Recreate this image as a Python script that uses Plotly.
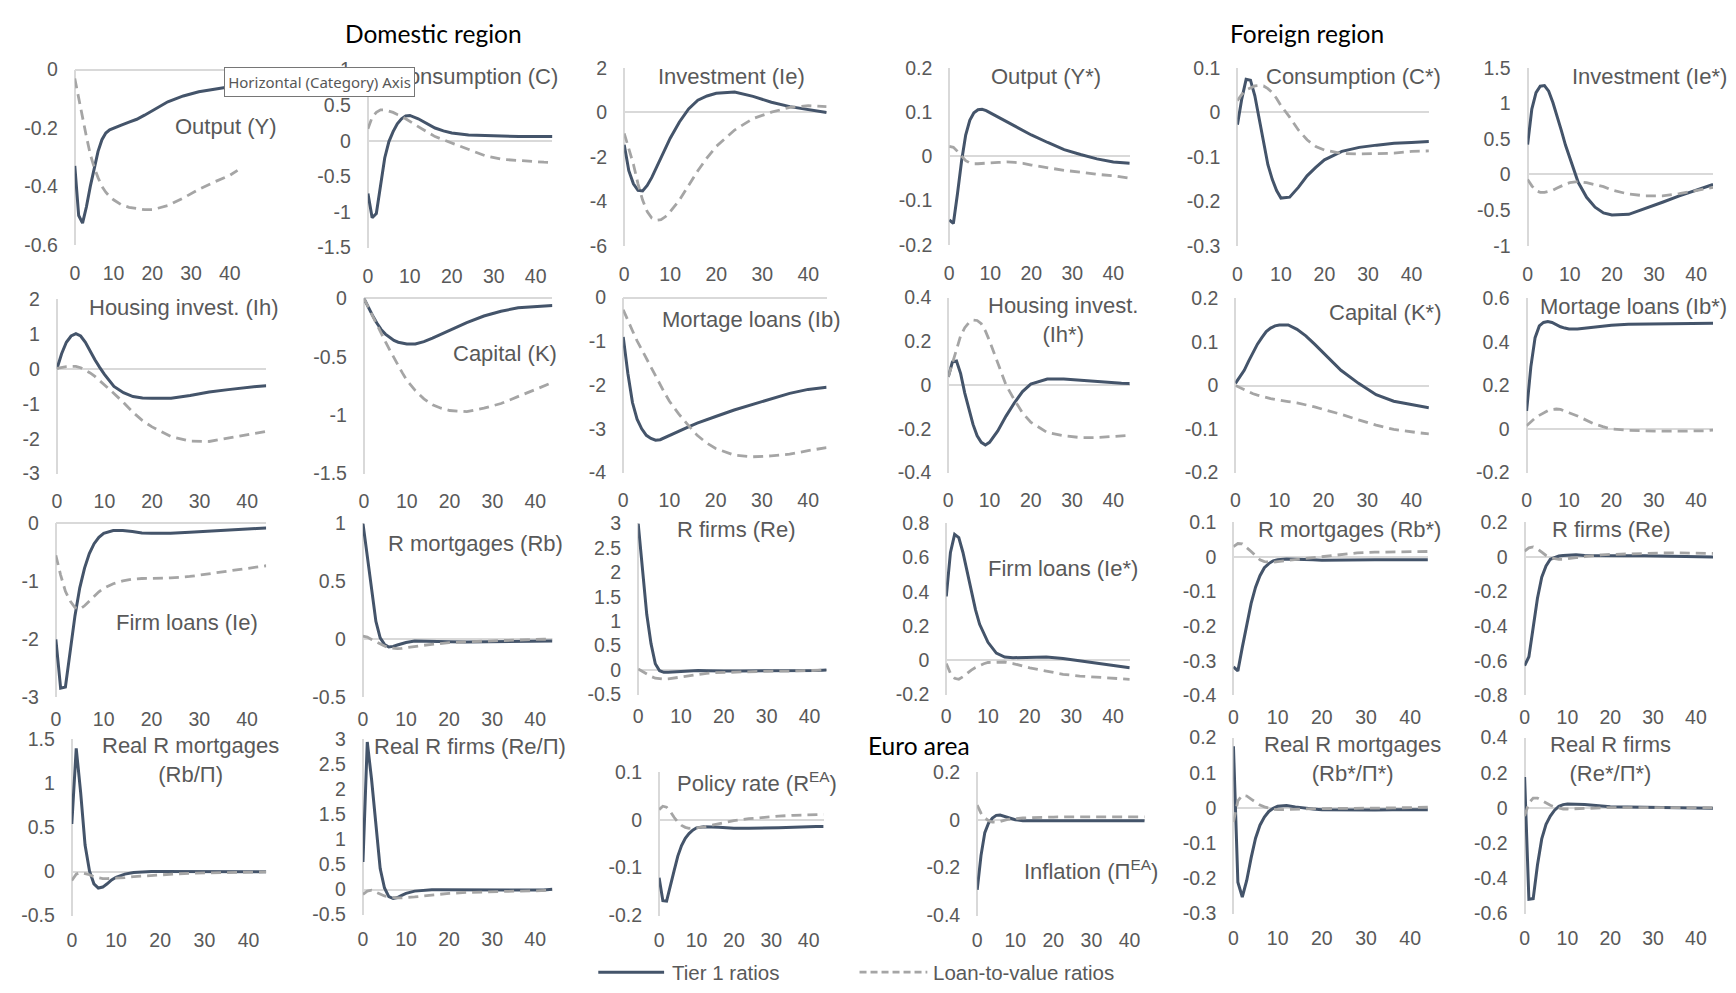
import plotly.graph_objects as go

# Quarters after the shock
HORIZON = [0, 1, 2, 3, 4, 5, 6, 7, 8, 9, 10, 12, 14, 16, 18, 20, 24, 28, 32, 36, 40, 42, 44]
X_TICKS = [0, 10, 20, 30, 40]

# ---- Domestic region -------------------------------------------------------
output_t1 = [-0.33, -0.50, -0.526, -0.47, -0.40, -0.335, -0.28, -0.24, -0.217, -0.206, -0.20,
             -0.19, -0.18, -0.17, -0.156, -0.14, -0.11, -0.09, -0.076, -0.067, -0.058, -0.054, -0.05]
output_ltv = [-0.03, -0.10, -0.17, -0.23, -0.29, -0.335, -0.37, -0.40, -0.42, -0.435, -0.446,
              -0.463, -0.472, -0.477, -0.48, -0.48, -0.466, -0.44, -0.41, -0.385, -0.362, -0.345, None]

cons_t1 = [-0.74, -1.08, -1.02, -0.65, -0.24, -0.01, 0.13, 0.24, 0.31, 0.35, 0.357,
           0.31, 0.24, 0.18, 0.14, 0.11, 0.083, 0.073, 0.064, 0.06, 0.06, 0.06, 0.06]
cons_ltv = [0.17, 0.33, 0.40, 0.435, 0.435, 0.42, 0.40, 0.37, 0.35, 0.31, 0.27,
            0.20, 0.13, 0.06, 0.015, -0.03, -0.12, -0.21, -0.26, -0.28, -0.30, -0.30, -0.305]

inv_t1 = [-1.46, -2.63, -3.22, -3.51, -3.54, -3.29, -2.93, -2.49, -2.05, -1.61, -1.17,
          -0.44, 0.15, 0.54, 0.73, 0.85, 0.91, 0.71, 0.45, 0.25, 0.12, 0.05, -0.01]
inv_ltv = [-0.95, -1.61, -2.34, -3.22, -3.95, -4.47, -4.76, -4.86, -4.83, -4.69, -4.47,
           -3.95, -3.29, -2.63, -2.05, -1.54, -0.80, -0.29, 0.0, 0.22, 0.29, 0.28, 0.25]

hinv_t1 = [0.0, 0.44, 0.77, 0.95, 1.02, 0.95, 0.77, 0.51, 0.27, 0.05, -0.15,
           -0.50, -0.68, -0.79, -0.83, -0.84, -0.84, -0.76, -0.66, -0.59, -0.52, -0.50, -0.48]
hinv_ltv = [0.02, 0.05, 0.07, 0.08, 0.08, 0.04, -0.03, -0.11, -0.21, -0.33, -0.45,
            -0.70, -0.96, -1.24, -1.48, -1.66, -1.94, -2.07, -2.08, -1.99, -1.90, -1.85, -1.79]

cap_t1 = [0.0, -0.075, -0.145, -0.21, -0.265, -0.305, -0.335, -0.36, -0.375, -0.385, -0.39,
          -0.39, -0.37, -0.34, -0.307, -0.27, -0.207, -0.15, -0.109, -0.08, -0.067, -0.063, -0.06]
cap_ltv = [0.0, -0.075, -0.155, -0.23, -0.30, -0.37, -0.44, -0.51, -0.58, -0.64, -0.70,
           -0.79, -0.86, -0.91, -0.94, -0.96, -0.97, -0.94, -0.90, -0.84, -0.78, -0.75, -0.72]

mort_t1 = [-0.9, -1.73, -2.40, -2.78, -3.00, -3.15, -3.22, -3.26, -3.25, -3.20, -3.15,
           -3.06, -2.96, -2.87, -2.79, -2.72, -2.57, -2.44, -2.31, -2.19, -2.10, -2.07, -2.05]
mort_ltv = [-0.28, -0.54, -0.76, -0.99, -1.19, -1.40, -1.60, -1.81, -2.01, -2.19, -2.37,
            -2.66, -2.91, -3.15, -3.32, -3.45, -3.60, -3.64, -3.62, -3.58, -3.50, -3.47, -3.43]

floans_t1 = [-2.0, -2.84, -2.82, -2.24, -1.59, -1.11, -0.77, -0.52, -0.35, -0.24, -0.17,
             -0.124, -0.124, -0.14, -0.164, -0.17, -0.17, -0.153, -0.13, -0.107, -0.096, -0.088, -0.08]
floans_ltv = [-0.55, -0.89, -1.17, -1.34, -1.45, -1.48, -1.42, -1.34, -1.25, -1.18, -1.12,
              -1.04, -0.99, -0.96, -0.95, -0.95, -0.94, -0.915, -0.87, -0.82, -0.77, -0.75, -0.73]

rb_t1 = [1.0, 0.72, 0.41, 0.156, 0.014, -0.043, -0.065, -0.06, -0.048, -0.037, -0.026,
         -0.014, -0.014, -0.017, -0.02, -0.02, -0.023, -0.02, -0.017, -0.014, -0.014, -0.014, -0.014]
rb_ltv = [0.028, 0.02, 0.0, -0.02, -0.043, -0.057, -0.071, -0.077, -0.08, -0.077, -0.071,
          -0.062, -0.051, -0.043, -0.034, -0.028, -0.02, -0.014, -0.009, -0.003, 0.003, 0.002, 0.0]

re_t1 = [3.0, 2.0, 1.14, 0.54, 0.13, -0.013, -0.047, -0.047, -0.04, -0.027, -0.02,
         -0.007, -0.007, -0.013, -0.02, -0.02, -0.02, -0.02, -0.02, -0.013, -0.013, -0.007, 0.0]
re_ltv = [0.02, -0.033, -0.087, -0.13, -0.167, -0.18, -0.187, -0.18, -0.167, -0.153, -0.14,
          -0.113, -0.087, -0.067, -0.053, -0.047, -0.033, -0.027, -0.02, -0.02, -0.013, -0.007, 0.0]

rrb_t1 = [0.54, 1.40, 0.90, 0.30, 0.007, -0.14, -0.188, -0.177, -0.14, -0.096, -0.066,
          -0.03, -0.011, -0.004, 0.0, 0.0, 0.0, 0.0, 0.0, -0.002, -0.004, -0.004, -0.004]
rrb_ltv = [-0.103, -0.03, -0.011, -0.022, -0.037, -0.059, -0.074, -0.081, -0.081, -0.079, -0.077,
           -0.07, -0.059, -0.052, -0.044, -0.037, -0.026, -0.018, -0.015, -0.011, -0.007, -0.005, -0.004]

rre_t1 = [0.55, 2.95, 2.2, 1.35, 0.42, 0.03, -0.142, -0.18, -0.16, -0.116, -0.077,
          -0.032, -0.013, -0.006, -0.006, -0.006, -0.013, -0.019, -0.019, -0.019, -0.019, -0.01, 0.006]
rre_ltv = [-0.097, -0.032, -0.013, -0.052, -0.097, -0.129, -0.148, -0.161, -0.168, -0.165, -0.161,
           -0.148, -0.129, -0.11, -0.09, -0.077, -0.058, -0.045, -0.039, -0.032, -0.026, -0.02, -0.013]

# ---- Foreign region --------------------------------------------------------
output_f_t1 = [-0.144, -0.152, -0.085, -0.011, 0.048, 0.081, 0.098, 0.105, 0.106, 0.103, 0.098,
               0.088, 0.078, 0.068, 0.058, 0.048, 0.031, 0.015, 0.004, -0.006, -0.013, -0.015, -0.016]
output_f_ltv = [0.022, 0.02, 0.011, 0.0, -0.01, -0.015, -0.017, -0.017, -0.016, -0.015, -0.015,
                -0.014, -0.013, -0.014, -0.016, -0.02, -0.026, -0.032, -0.036, -0.041, -0.044, -0.047, -0.05]

cons_f_t1 = [-0.028, 0.03, 0.074, 0.072, 0.037, -0.015, -0.074, -0.118, -0.151, -0.176, -0.193,
             -0.191, -0.169, -0.143, -0.124, -0.107, -0.088, -0.079, -0.074, -0.07, -0.068, -0.067, -0.066]
cons_f_ltv = [0.026, 0.04, 0.05, 0.055, 0.059, 0.06, 0.059, 0.053, 0.044, 0.031, 0.015,
              -0.011, -0.04, -0.062, -0.077, -0.085, -0.093, -0.094, -0.093, -0.092, -0.088, -0.087, -0.087]

inv_f_t1 = [0.42, 0.92, 1.15, 1.24, 1.25, 1.17, 1.01, 0.83, 0.62, 0.41, 0.23,
            -0.11, -0.32, -0.46, -0.54, -0.57, -0.56, -0.48, -0.39, -0.30, -0.22, -0.18, -0.14]
inv_f_ltv = [-0.07, -0.16, -0.23, -0.25, -0.25, -0.24, -0.22, -0.19, -0.16, -0.135, -0.115,
             -0.10, -0.115, -0.14, -0.17, -0.22, -0.275, -0.30, -0.30, -0.27, -0.22, -0.20, -0.18]

hinv_f_t1 = [0.037, 0.105, 0.11, 0.052, -0.037, -0.112, -0.18, -0.232, -0.262, -0.274, -0.262,
             -0.21, -0.142, -0.082, -0.03, 0.004, 0.027, 0.028, 0.022, 0.015, 0.01, 0.008, 0.007]
hinv_f_ltv = [0.037, 0.097, 0.165, 0.225, 0.262, 0.285, 0.297, 0.295, 0.28, 0.247, 0.202,
              0.097, 0.0, -0.067, -0.127, -0.17, -0.217, -0.232, -0.24, -0.24, -0.235, -0.232, -0.23]

cap_f_t1 = [0.005, 0.02, 0.035, 0.056, 0.077, 0.095, 0.11, 0.124, 0.132, 0.137, 0.139,
            0.139, 0.129, 0.114, 0.095, 0.075, 0.035, 0.005, -0.021, -0.036, -0.044, -0.048, -0.051]
cap_f_ltv = [0.0, -0.005, -0.01, -0.015, -0.019, -0.022, -0.025, -0.028, -0.03, -0.032, -0.034,
             -0.037, -0.04, -0.044, -0.049, -0.055, -0.066, -0.079, -0.091, -0.101, -0.107, -0.109, -0.111]

mort_f_t1 = [0.083, 0.286, 0.42, 0.474, 0.49, 0.494, 0.49, 0.479, 0.47, 0.464, 0.46,
             0.46, 0.464, 0.47, 0.474, 0.477, 0.482, 0.483, 0.485, 0.486, 0.486, 0.486, 0.486]
mort_f_ltv = [0.015, 0.033, 0.05, 0.063, 0.075, 0.084, 0.09, 0.092, 0.09, 0.084, 0.075,
              0.06, 0.042, 0.023, 0.011, 0.0, -0.006, -0.009, -0.01, -0.01, -0.01, -0.008, -0.005]

floans_f_t1 = [0.373, 0.63, 0.736, 0.717, 0.63, 0.516, 0.40, 0.296, 0.21, 0.153, 0.105,
               0.042, 0.019, 0.015, 0.015, 0.019, 0.019, 0.01, -0.004, -0.019, -0.033, -0.039, -0.044]
floans_f_ltv = [-0.019, -0.076, -0.105, -0.111, -0.096, -0.076, -0.057, -0.042, -0.029, -0.02, -0.013,
                -0.01, -0.01, -0.019, -0.033, -0.044, -0.063, -0.082, -0.092, -0.10, -0.105, -0.108, -0.111]

rb_f_t1 = [-0.317, -0.329, -0.261, -0.195, -0.134, -0.087, -0.054, -0.031, -0.019, -0.011, -0.008,
           -0.006, -0.006, -0.008, -0.008, -0.009, -0.008, -0.008, -0.008, -0.008, -0.008, -0.008, -0.008]
rb_f_ltv = [0.03, 0.039, 0.038, 0.028, 0.016, 0.004, -0.008, -0.013, -0.015, -0.015, -0.013,
            -0.01, -0.008, -0.005, -0.001, 0.002, 0.008, 0.012, 0.014, 0.015, 0.016, 0.016, 0.016]

re_f_t1 = [-0.628, -0.576, -0.407, -0.238, -0.116, -0.051, -0.013, -0.004, 0.006, 0.009, 0.011,
           0.013, 0.009, 0.008, 0.008, 0.008, 0.008, 0.008, 0.006, 0.006, 0.004, 0.002, 0.0]
re_f_ltv = [0.034, 0.053, 0.058, 0.047, 0.028, 0.009, -0.004, -0.009, -0.013, -0.013, -0.009,
            -0.004, 0.002, 0.009, 0.013, 0.015, 0.019, 0.021, 0.023, 0.024, 0.024, 0.023, 0.021]

rrb_f_t1 = [0.175, -0.211, -0.253, -0.206, -0.142, -0.086, -0.049, -0.026, -0.01, -0.001, 0.005,
            0.007, 0.003, -0.001, -0.003, -0.005, -0.006, -0.006, -0.006, -0.005, -0.005, -0.005, -0.005]
rrb_f_ltv = [-0.04, 0.02, 0.036, 0.034, 0.025, 0.016, 0.008, 0.003, -0.001, -0.004, -0.005,
             -0.005, -0.004, -0.003, -0.002, -0.002, -0.001, 0.0, 0.0, 0.0, 0.001, 0.001, 0.002]

rre_f_t1 = [0.176, -0.519, -0.515, -0.324, -0.176, -0.093, -0.046, -0.013, 0.009, 0.019, 0.022,
            0.022, 0.019, 0.015, 0.011, 0.007, 0.006, 0.004, 0.004, 0.004, 0.002, 0.0, -0.002]
rre_f_ltv = [-0.046, 0.028, 0.056, 0.056, 0.043, 0.028, 0.015, 0.006, -0.002, -0.006, -0.006,
             -0.004, -0.002, 0.0, 0.001, 0.002, 0.002, 0.002, 0.002, 0.002, 0.002, 0.002, 0.002]

# ---- Euro area -------------------------------------------------------------
policy_t1 = [-0.121, -0.169, -0.17, -0.141, -0.107, -0.076, -0.054, -0.039, -0.029, -0.022, -0.017,
             -0.015, -0.015, -0.016, -0.017, -0.018, -0.018, -0.018, -0.017, -0.016, -0.014, -0.014, -0.014]
policy_ltv = [0.021, 0.028, 0.026, 0.017, 0.005, -0.005, -0.012, -0.016, -0.018, -0.018, -0.017,
              -0.015, -0.012, -0.008, -0.005, -0.002, 0.002, 0.005, 0.0075, 0.009, 0.01, 0.0105, 0.011]

infl_t1 = [-0.293, -0.15, -0.054, -0.014, 0.007, 0.018, 0.019, 0.015, 0.01, 0.004, 0.0,
           -0.004, -0.005, -0.005, -0.005, -0.005, -0.005, -0.005, -0.004, -0.004, -0.004, -0.004, -0.004]
infl_ltv = [0.061, 0.027, 0.007, -0.004, -0.01, -0.011, -0.008, -0.003, 0.001, 0.003, 0.005,
            0.007, 0.008, 0.01, 0.011, 0.011, 0.012, 0.012, 0.012, 0.012, 0.012, 0.012, 0.012]

# Panel titles, series and value-axis bounds (min, max, step)
PANELS = [
    ("Output (Y)", output_t1, output_ltv, -0.6, 0.0, 0.2),
    ("Consumption (C)", cons_t1, cons_ltv, -1.5, 1.0, 0.5),
    ("Investment (Ie)", inv_t1, inv_ltv, -6, 2, 2),
    ("Output (Y*)", output_f_t1, output_f_ltv, -0.2, 0.2, 0.1),
    ("Consumption (C*)", cons_f_t1, cons_f_ltv, -0.3, 0.1, 0.1),
    ("Investment (Ie*)", inv_f_t1, inv_f_ltv, -1.0, 1.5, 0.5),
    ("Housing invest. (Ih)", hinv_t1, hinv_ltv, -3, 2, 1),
    ("Capital (K)", cap_t1, cap_ltv, -1.5, 0.0, 0.5),
    ("Mortage loans (Ib)", mort_t1, mort_ltv, -4, 0, 1),
    ("Housing invest.<br>(Ih*)", hinv_f_t1, hinv_f_ltv, -0.4, 0.4, 0.2),
    ("Capital (K*)", cap_f_t1, cap_f_ltv, -0.2, 0.2, 0.1),
    ("Mortage loans (Ib*)", mort_f_t1, mort_f_ltv, -0.2, 0.6, 0.2),
    ("Firm loans (Ie)", floans_t1, floans_ltv, -3, 0, 1),
    ("R mortgages (Rb)", rb_t1, rb_ltv, -0.5, 1.0, 0.5),
    ("R firms (Re)", re_t1, re_ltv, -0.5, 3.0, 0.5),
    ("Firm loans (Ie*)", floans_f_t1, floans_f_ltv, -0.2, 0.8, 0.2),
    ("R mortgages (Rb*)", rb_f_t1, rb_f_ltv, -0.4, 0.1, 0.1),
    ("R firms (Re)", re_f_t1, re_f_ltv, -0.8, 0.2, 0.2),
    ("Real R mortgages<br>(Rb/Π)", rrb_t1, rrb_ltv, -0.5, 1.5, 0.5),
    ("Real R firms (Re/Π)", rre_t1, rre_ltv, -0.5, 3.0, 0.5),
    ("Policy rate (R<sup>EA</sup>)", policy_t1, policy_ltv, -0.2, 0.1, 0.1),
    ("Inflation (Π<sup>EA</sup>)", infl_t1, infl_ltv, -0.4, 0.2, 0.2),
    ("Real R mortgages<br>(Rb*/Π*)", rrb_f_t1, rrb_f_ltv, -0.3, 0.2, 0.1),
    ("Real R firms<br>(Re*/Π*)", rre_f_t1, rre_f_ltv, -0.6, 0.4, 0.2),
]

SERIES_NAMES = ("Tier 1 ratios", "Loan-to-value ratios")

# ---- Page geometry (pixels) -----------------------------------------------
W, H = 1736, 993
# plot area of each panel: left, right, top, bottom
BOXES = [
    (70, 241, 60, 239), (364, 549, 60, 242), (621, 824, 58, 240),
    (947, 1128, 58, 239), (1236, 1428, 58, 240), (1527, 1713, 58, 240),
    (52, 262, 295, 473), (360, 549, 294, 473), (620, 824, 293, 472),
    (946, 1128, 293, 472), (1234, 1428, 294, 472), (1526, 1713, 294, 472),
    (51, 262, 524, 702), (359, 549, 524, 702), (635, 824, 524, 699),
    (944, 1128, 524, 699), (1232, 1427, 523, 700), (1524, 1713, 523, 700),
    (67, 262, 745, 925), (359, 549, 745, 924), (656, 821, 778, 925),
    (975, 1143, 778, 925), (1232, 1427, 743, 923), (1524, 1713, 743, 923),
]
# gap between each row's plot bottom and its category labels
ROW_LABEL_GAP = [15, 14, 8, 11]
# centre of each panel title
TITLE_POS = [
    (221, 118), (471, 67), (729, 67), (1044, 67), (1352, 67), (1649, 67),
    (180, 303), (501, 350), (749, 315), (1061, 316), (1384, 308), (1633, 302),
    (183, 625), (472, 545), (734, 530), (1061, 570), (1348, 530), (1611, 530),
    (186, 766), (466, 752), (754, 788), (1089, 878), (1351, 765), (1610, 765),
]
HEADERS = [("Domestic region", 430, 23), ("Foreign region", 1306, 23), ("Euro area", 917, 751)]
# key row: sample line start/end, label start, vertical centre
LEGEND_ROW = [(595, 661, 667, 983), (857, 925, 929, 983)]

NAVY = "#44546A"
LTV_GREY = "#A5A5A5"
AXIS_GREY = "#D9D9D9"
TEXT_GREY = "#595959"
SANS = "Liberation Sans, Arial, sans-serif"
TICK_FONT = dict(family=SANS, size=19.5, color=TEXT_GREY)
STYLES = [dict(color=NAVY, width=3), dict(color=LTV_GREY, width=2.8, dash="10px,6px")]
KEY_DASH = ["solid", "7px,4px"]


def fmt(v):
    v = round(v, 6)
    if v == 0:
        return "0"
    return f"{v:g}"


fig = go.Figure()
annotations = []
shapes = []
layout_axes = {}

for i, (title, t1, ltv, ymin, ymax, step) in enumerate(PANELS):
    n = i + 1
    xref = "x" if n == 1 else f"x{n}"
    yref = "y" if n == 1 else f"y{n}"
    for name, series, style in zip(SERIES_NAMES, (t1, ltv), STYLES):
        fig.add_trace(go.Scatter(
            x=HORIZON, y=series, mode="lines", name=name, line=style,
            xaxis=xref, yaxis=yref, showlegend=False, hoverinfo="skip",
        ))

    left, right, top, bottom = BOXES[i]
    nsteps = int(round((ymax - ymin) / step))
    yvals = [round(ymin + k * step, 6) for k in range(nsteps + 1)]

    layout_axes["xaxis" if n == 1 else f"xaxis{n}"] = dict(
        domain=[left / W, right / W], range=[0, 44], anchor=yref,
        tickvals=X_TICKS, ticktext=[str(v) for v in X_TICKS],
        showgrid=False, showline=False, ticks="",
        zeroline=True, zerolinecolor=AXIS_GREY, zerolinewidth=2,
        tickfont=TICK_FONT, ticklabelstandoff=ROW_LABEL_GAP[i // 6], fixedrange=True,
    )
    layout_axes["yaxis" if n == 1 else f"yaxis{n}"] = dict(
        domain=[1 - bottom / H, 1 - top / H], range=[ymin, ymax], anchor=xref,
        tickvals=yvals, ticktext=[fmt(v) for v in yvals],
        showgrid=False, showline=False, ticks="",
        zeroline=True, zerolinecolor=AXIS_GREY, zerolinewidth=2,
        tickfont=TICK_FONT, ticklabelstandoff=16, fixedrange=True,
    )

    cx, cy = TITLE_POS[i]
    annotations.append(dict(
        text=title, x=cx / W, y=1 - cy / H, xref="paper", yref="paper",
        xanchor="center", yanchor="middle", showarrow=False,
        font=dict(family=SANS, size=22, color=TEXT_GREY),
    ))

for text, cx, cy in HEADERS:
    annotations.append(dict(
        text=text, x=cx / W, y=1 - cy / H, xref="paper", yref="paper",
        xanchor="center", yanchor="middle", showarrow=False,
        font=dict(family="Lato, Open Sans, sans-serif", size=24.5, color="#000000"),
    ))

# shared key below the panels
for name, style, dash, (x0, x1, xt, yc) in zip(SERIES_NAMES, STYLES, KEY_DASH, LEGEND_ROW):
    shapes.append(dict(
        type="line", xref="paper", yref="paper",
        x0=x0 / W, x1=x1 / W, y0=1 - yc / H, y1=1 - yc / H,
        line=dict(color=style["color"], width=style["width"], dash=dash),
    ))
    annotations.append(dict(
        text=name, x=xt / W, y=1 - yc / H, xref="paper", yref="paper",
        xanchor="left", yanchor="middle", showarrow=False,
        font=dict(family=SANS, size=20.5, color=TEXT_GREY),
    ))

# hover tip left over on the first panel's category axis
annotations.append(dict(
    text="Horizontal (Category) Axis", x=220 / W, y=1 - 57 / H, xref="paper", yref="paper",
    xanchor="left", yanchor="top", showarrow=False, align="center",
    width=183, height=22, borderpad=3, bgcolor="#FFFFFF",
    bordercolor="#767676", borderwidth=1,
    font=dict(family="Noto Sans, sans-serif", size=15, color="#575757"),
))

fig.update_layout(
    width=W, height=H, margin=dict(l=0, r=0, t=0, b=0),
    paper_bgcolor="white", plot_bgcolor="rgba(0,0,0,0)",
    showlegend=False, annotations=annotations, shapes=shapes,
    **layout_axes,
)

fig.write_html("out.html")
